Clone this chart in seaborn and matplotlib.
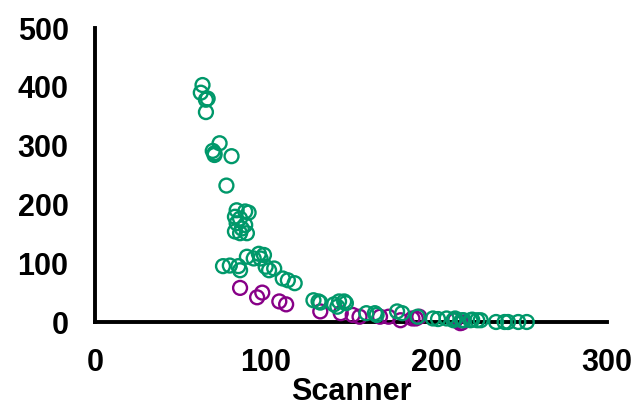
import pandas as pd
import seaborn as sns
import matplotlib.pyplot as plt

# values
green_scanner = [63, 62, 66, 65, 65, 73, 69, 70, 70, 80, 77,
                 83, 88, 90, 82, 85, 83, 88, 86, 82, 85, 89,
                 75, 79, 84, 85, 89, 93, 96, 99, 97, 100, 102, 105,
                 110, 113, 117, 128, 131, 132, 140, 143, 146, 142, 147,
                 159, 164, 165, 177, 180, 189, 198, 201, 206, 210, 211,
                 215, 216, 220, 221, 224, 226, 235, 240, 242, 248, 253]
green_value = [403, 390, 380, 378, 357, 304, 291, 287, 284, 282, 232,
               190, 188, 186, 179, 176, 168, 165, 159, 154, 151, 151,
               95, 96, 95, 88, 111, 108, 116, 114, 108, 94, 88, 91,
               74, 71, 66, 37, 35, 33, 30, 35, 35, 26, 32,
               15, 15, 12, 18, 15, 9, 6, 5, 6, 3, 6,
               3, 3, 3, 4, 3, 3, 0, 0, 0, 0, 0]

purple_scanner = [85, 95, 98, 108, 112, 132, 144, 151, 155, 167, 172,
                  179, 186, 188, 190, 211, 214, 215]
purple_value = [58, 42, 50, 35, 30, 18, 15, 12, 9, 9, 9,
                3, 6, 6, 9, 3, -2, -1]

df = pd.concat([
    pd.DataFrame({"Scanner": purple_scanner, "Value": purple_value, "group": "B"}),
    pd.DataFrame({"Scanner": green_scanner, "Value": green_value, "group": "A"}),
])
palette = {"A": "#00986A", "B": "#870087"}

sns.set_style("white")
plt.rcParams["font.family"] = ["Liberation Sans", "DejaVu Sans"]

fig = plt.figure(figsize=(6.34, 4.15), dpi=100)
ax = fig.add_axes([95 / 634, 93 / 415, 512 / 634, 294 / 415])

for g in ["B", "A"]:
    sub = df[df["group"] == g]
    sns.scatterplot(data=sub, x="Scanner", y="Value", ax=ax,
                    facecolors="none", edgecolor=palette[g],
                    s=100, linewidth=1.7, legend=False, zorder=5)
for c in ax.collections:
    c.set_clip_on(False)

ax.set_xlim(0, 300)
ax.set_ylim(0, 500)
ax.set_xticks([0, 100, 200, 300])
ax.set_yticks([0, 100, 200, 300, 400, 500])
ax.set_xlabel("Scanner", fontsize=22, fontweight="bold", color="black",
              labelpad=-1)
ax.set_ylabel("")
for side in ["top", "right"]:
    ax.spines[side].set_visible(False)
for side in ["left", "bottom"]:
    ax.spines[side].set_linewidth(2.8)
    ax.spines[side].set_color("black")
ax.tick_params(axis="both", direction="out", length=6, width=2.8,
               colors="black", labelsize=22)
ax.tick_params(axis="y", pad=13)
ax.tick_params(axis="x", pad=13)
for lab in ax.get_xticklabels() + ax.get_yticklabels():
    lab.set_fontweight("bold")

fig.savefig("out.png", dpi=100)
